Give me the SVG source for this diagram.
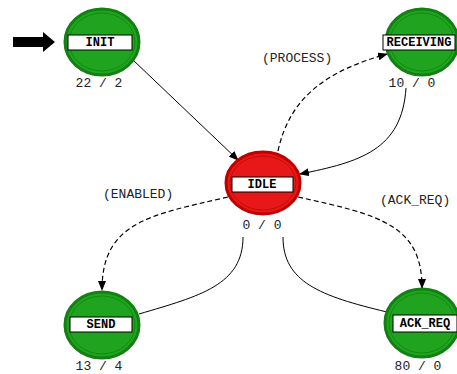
<svg xmlns="http://www.w3.org/2000/svg" width="457" height="374" viewBox="0 0 457 374">
<defs>
<style>
.g{fill:#20a420;stroke:#128012;stroke-width:3}
.gi{fill:none;stroke:#0e8a0e;stroke-width:1}
.r{fill:#e81818;stroke:#c00000;stroke-width:3}
.ri{fill:none;stroke:#c80808;stroke-width:1}
.box{fill:#fff;stroke:#000;stroke-width:1}
.lbl{font-family:"Liberation Mono",monospace;font-size:12px;font-weight:bold;text-anchor:middle;fill:#000}
.cnt{font-family:"Liberation Mono",monospace;font-size:13px;text-anchor:middle;fill:#222}
.ev{font-family:"Liberation Mono",monospace;font-size:13px;fill:#222}
.s{fill:none;stroke:#000;stroke-width:1}
.d{fill:none;stroke:#000;stroke-width:1.2;stroke-dasharray:5,3}
</style>
<marker id="ah" markerWidth="10" markerHeight="8" refX="9" refY="4" orient="auto" markerUnits="userSpaceOnUse">
<path d="M0,0 L10,4 L0,8 Z" fill="#000"/>
</marker>
</defs>
<rect width="457" height="374" fill="#fff"/>
<g id="connectors">
<path class="s" d="M133,60 L238,160" marker-end="url(#ah)"/>
<path class="d" d="M278,151 C290,95 330,70 387,54" marker-end="url(#ah)"/>
<path class="s" d="M406,88 C402,150 360,162 300,174" marker-end="url(#ah)"/>
<path class="d" d="M228,197 C150,215 102,222 102,290" marker-end="url(#ah)"/>
<path class="s" d="M139,314 C200,296 243,285 243,237"/>
<path class="d" d="M298,197 C380,215 422,225 422,288" marker-end="url(#ah)"/>
<path class="s" d="M387,312 C320,296 283,282 283,237"/>
<path d="M13,37 H43 V32 L55,42 L43,52 V47 H13 Z" fill="#000"/>
<text class="ev" x="262" y="62">(PROCESS)</text>
<text class="ev" x="103" y="198">(ENABLED)</text>
<text class="ev" x="380" y="204">(ACK_REQ)</text>
</g>
<g id="INIT">
<ellipse class="g" cx="102" cy="42" rx="37" ry="33"/>
<ellipse class="gi" cx="102" cy="42" rx="33" ry="29"/>
<rect class="box" x="68" y="35" width="64" height="15"/>
<text class="lbl" x="100" y="46">INIT</text>
<text class="cnt" x="99" y="87">22 / 2</text>
</g>
<g id="RECEIVING">
<ellipse class="g" cx="422" cy="42" rx="36" ry="33"/>
<ellipse class="gi" cx="422" cy="42" rx="32" ry="29"/>
<rect class="box" x="383" y="35" width="72" height="15"/>
<text class="lbl" x="419" y="46">RECEIVING</text>
<text class="cnt" x="412" y="87">10 / 0</text>
</g>
<g id="IDLE">
<ellipse class="r" cx="263" cy="183" rx="37" ry="31"/>
<ellipse class="ri" cx="263" cy="183" rx="33" ry="27"/>
<rect class="box" x="232" y="177" width="61" height="15"/>
<text class="lbl" x="262" y="188">IDLE</text>
<text class="cnt" x="262" y="229">0 / 0</text>
</g>
<g id="SEND">
<ellipse class="g" cx="102" cy="325" rx="37" ry="33"/>
<ellipse class="gi" cx="102" cy="325" rx="33" ry="29"/>
<rect class="box" x="70" y="317" width="62" height="15"/>
<text class="lbl" x="101" y="328">SEND</text>
<text class="cnt" x="99" y="370">13 / 4</text>
</g>
<g id="ACK_REQ">
<ellipse class="g" cx="422" cy="323" rx="37" ry="34"/>
<ellipse class="gi" cx="422" cy="323" rx="33" ry="30"/>
<rect class="box" x="393" y="315" width="64" height="17"/>
<text class="lbl" x="425" y="327">ACK_REQ</text>
<text class="cnt" x="418" y="370">80 / 0</text>
</g>
</svg>
